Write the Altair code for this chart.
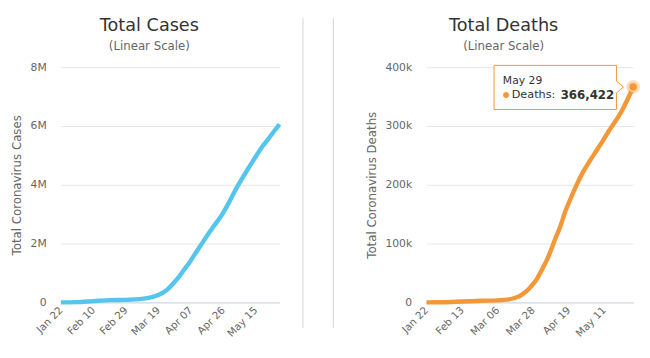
import altair as alt
import pandas as pd

# ---------------- data ----------------
case_dates = ["2020-01-22", "2020-01-31", "2020-02-10", "2020-02-20", "2020-02-29",
              "2020-03-08", "2020-03-14", "2020-03-19", "2020-03-22", "2020-03-25",
              "2020-03-28", "2020-03-31", "2020-04-03", "2020-04-06", "2020-04-09",
              "2020-04-13", "2020-04-17", "2020-04-21", "2020-04-25", "2020-04-29",
              "2020-05-03", "2020-05-07", "2020-05-11", "2020-05-15", "2020-05-19",
              "2020-05-23", "2020-05-26", "2020-05-29"]
case_values = [580, 9900, 43000, 76000, 87000,
               110000, 160000, 250000, 340000, 470000,
               660000, 860000, 1100000, 1330000, 1600000,
               1950000, 2300000, 2630000, 2950000, 3350000,
               3800000, 4200000, 4580000, 4950000, 5300000,
               5600000, 5830000, 6060000]

death_dates = ["2020-01-22", "2020-02-01", "2020-02-13", "2020-02-25", "2020-03-06",
               "2020-03-12", "2020-03-17", "2020-03-21", "2020-03-24", "2020-03-27",
               "2020-03-30", "2020-04-02", "2020-04-05", "2020-04-08", "2020-04-11",
               "2020-04-14", "2020-04-17", "2020-04-20", "2020-04-24", "2020-04-28",
               "2020-05-02", "2020-05-06", "2020-05-10", "2020-05-14", "2020-05-18",
               "2020-05-22", "2020-05-26", "2020-05-29"]
death_values = [17, 260, 1400, 2700, 3500,
                4700, 7900, 13000, 19000, 28000,
                38000, 53000, 69000, 88000, 110000,
                130000, 155000, 175000, 200000, 222000,
                240000, 257000, 274000, 292000, 308000,
                326000, 348000, 366422]

case_ticks = [(1, 22), (2, 10), (2, 29), (3, 19), (4, 7), (4, 26), (5, 15)]
death_ticks = [(1, 22), (2, 13), (3, 6), (3, 28), (4, 19), (5, 11)]
case_y_ticks = [0, 2000000, 4000000, 6000000, 8000000]
death_y_ticks = [0, 100000, 200000, 300000, 400000]

CASE_COLOR = "#55c5ee"
DEATH_COLOR = "#f29838"
FONT = "DejaVu Sans"


def dt(m, d):
    return alt.DateTime(year=2020, month=m, date=d, utc=True)


x_domain = [dt(1, 22), dt(5, 29)]

cases_df = pd.DataFrame({"date": case_dates, "value": case_values})
deaths_df = pd.DataFrame({"date": death_dates, "value": death_values})
last_df = pd.DataFrame({
    "date": [death_dates[-1]],
    "value": [death_values[-1]],
    "day": [pd.Timestamp(death_dates[-1]).strftime("%b %d")],
    "num": [f"{death_values[-1]:,}"],
    "lbl": ["Deaths:"],
    "dot": ["\u25cf"],
})


def x_enc(ticks):
    return alt.X(
        "date:T",
        scale=alt.Scale(type="utc", domain=x_domain, nice=False),
        axis=alt.Axis(
            values=[dt(m, d) for m, d in ticks],
            format="%b %d",
            labelAngle=-45,
            labelAlign="right",
            labelBaseline="middle",
            labelPadding=6,
            labelOverlap=False,
            ticks=False,
            grid=False,
            domain=True,
            domainColor="#ccd6eb",
            labelColor="#666666",
            labelFontSize=10.5,
            labelFont=FONT,
            title=None,
        ),
    )


def y_enc(title, domain, ticks, expr, pad):
    return alt.Y(
        "value:Q",
        scale=alt.Scale(domain=domain, nice=False),
        axis=alt.Axis(
            values=ticks,
            labelExpr=expr,
            title=title,
            titleFont=FONT,
            titleFontSize=12,
            titleFontWeight="normal",
            titleColor="#666666",
            titlePadding=pad,
            labelFont=FONT,
            labelFontSize=11,
            labelColor="#666666",
            labelPadding=15,
            ticks=False,
            domain=False,
            grid=True,
            gridColor="#e6e6e6",
        ),
    )


def title(t):
    return alt.TitleParams(
        text=t, subtitle="(Linear Scale)", font=FONT, subtitleFont=FONT,
        fontSize=18, subtitleFontSize=12, fontWeight="normal",
        color="#333333", subtitleColor="#666666", anchor="middle",
        frame="bounds", offset=10, subtitlePadding=6,
    )


cases_chart = alt.Chart(cases_df).mark_line(
    color=CASE_COLOR, strokeWidth=4.5, interpolate="monotone"
).encode(
    x=x_enc(case_ticks),
    y=y_enc("Total Coronavirus Cases", [0, 8000000], case_y_ticks,
            "datum.value == 0 ? '0' : (datum.value / 1000000) + 'M'", 7),
).properties(width=223, height=240, title=title("Total Cases"))

deaths_line = alt.Chart(deaths_df).mark_line(
    color=DEATH_COLOR, strokeWidth=4.5, interpolate="monotone"
).encode(
    x=x_enc(death_ticks),
    y=y_enc("Total Coronavirus Deaths", [0, 400000], death_y_ticks,
            "datum.value == 0 ? '0' : (datum.value / 1000) + 'k'", 7),
)

base_last = alt.Chart(last_df).encode(x="date:T", y="value:Q")
halo = base_last.mark_circle(size=200, color=DEATH_COLOR, opacity=0.3)
dot = base_last.mark_circle(size=80, color=DEATH_COLOR, opacity=1,
                            stroke="#fbd3a6", strokeWidth=1.5)
box_path = "M-1.42,-0.22 H-0.17 V-0.06 L-0.1,0 L-0.17,0.06 V0.23 H-1.42 Z"
box = base_last.mark_point(shape=box_path, size=40000, fill="#ffffff",
                           fillOpacity=0.95, stroke=DEATH_COLOR,
                           strokeWidth=1, opacity=1)
t_day = base_last.mark_text(align="left", baseline="middle", dx=-133, dy=-6,
                            font=FONT, fontSize=11, color="#333333").encode(text="day:N")
t_dot = base_last.mark_text(align="left", baseline="middle", dx=-133, dy=8,
                            font=FONT, fontSize=8, color=DEATH_COLOR).encode(text="dot:N")
t_lbl = base_last.mark_text(align="left", baseline="middle", dx=-124, dy=8,
                            font=FONT, fontSize=11.5, color="#333333").encode(text="lbl:N")
t_num = base_last.mark_text(align="left", baseline="middle", dx=-74, dy=8,
                            font=FONT, fontSize=12, fontWeight="bold",
                            color="#333333").encode(text="num:N")

deaths_chart = alt.layer(
    deaths_line, halo, dot, box, t_day, t_dot, t_lbl, t_num
).properties(width=211, height=240, title=title("Total Deaths"))

div_df = pd.DataFrame({"v": [0]})
div_a = alt.Chart(div_df).mark_rule(color="#d4d4d4", strokeWidth=1).encode(
    x=alt.value(0), y=alt.value(-50), y2=alt.value(266))
div_b = alt.Chart(div_df).mark_rule(color="#d4d4d4", strokeWidth=1).encode(
    x=alt.value(31), y=alt.value(-50), y2=alt.value(266))
divider = alt.layer(div_a, div_b).properties(width=49, height=1)

chart = alt.hconcat(cases_chart, divider, deaths_chart, spacing=14).properties(
    padding={"left": 2, "top": 6, "right": 0, "bottom": 0},
    background="#ffffff",
).configure_view(stroke=None)

chart.save("out.html", embed_options={"renderer": "svg", "actions": False})
